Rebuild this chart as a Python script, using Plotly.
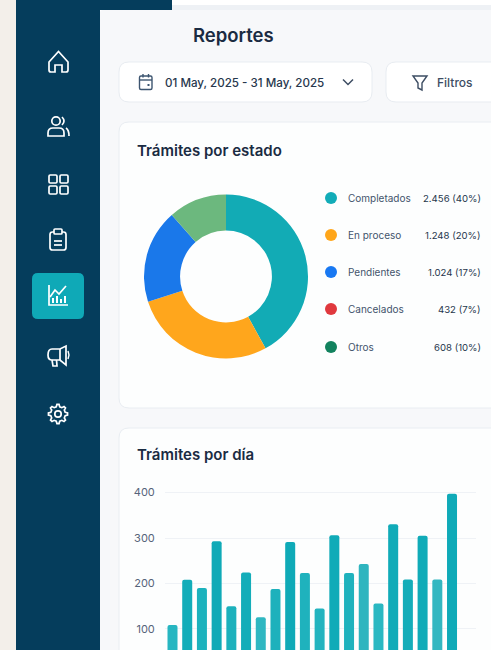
import re
import math
import plotly.graph_objects as go

W, H = 491, 650

# ---------- data ----------
donut_labels = ["Completados", "En proceso", "Pendientes", "Otros"]
donut_values = [42, 28, 18.5, 11.5]
donut_colors = ["#12abb5", "#ffa61c", "#1a78ea", "#6cb87e"]

legend_labels = ["Completados", "En proceso", "Pendientes", "Cancelados", "Otros"]
legend_values = ["2.456 (40%)", "1.248 (20%)", "1.024 (17%)", "432 (7%)", "608 (10%)"]
legend_colors = ["#12acb8", "#ffa61a", "#1878f2", "#e0393e", "#12825e"]

days = list(range(1, 21))
day_values = [109, 208, 190, 293, 150, 224, 126, 188, 291, 223,
              145, 306, 223, 243, 156, 330, 209, 305, 209, 397]
day_colors = ["#27b6c1", "#12adb9", "#1cb2bd", "#0faab7", "#1cb1bc", "#13adb9", "#2fb7c1", "#1db1bc",
              "#0faab7", "#1fb2bd", "#23b4bf", "#10abb8", "#1fb2bd", "#2fb5bf", "#2ab8c2", "#10abb8",
              "#14adb9", "#10abb8", "#33b7c1", "#0faab8"]
y_ticks = [100, 200, 300, 400]

# ---------- pixel helpers (page furniture only) ----------
def px(x):
    return x / W

def py(y):
    return 1 - y / H

def conv(path):
    toks = re.findall(r"[MLCQZ]|-?\d+\.?\d*", path)
    out, isx = [], True
    for t in toks:
        if t in "MLCQZ":
            out.append(t)
            isx = True
        else:
            out.append(f"{px(float(t)):.5f}" if isx else f"{py(float(t)):.5f}")
            isx = not isx
    return " ".join(out)

shapes = []

def rect(x0, y0, x1, y1, fill, layer="below", line=None):
    shapes.append(dict(type="rect", xref="paper", yref="paper", x0=px(x0), x1=px(x1),
                       y0=py(y0), y1=py(y1), fillcolor=fill, layer=layer,
                       line=dict(width=1 if line else 0, color=line or "rgba(0,0,0,0)")))

def rrect_path(x0, y0, x1, y1, r):
    return (f"M {x0+r} {y0} L {x1-r} {y0} Q {x1} {y0} {x1} {y0+r} L {x1} {y1-r} "
            f"Q {x1} {y1} {x1-r} {y1} L {x0+r} {y1} Q {x0} {y1} {x0} {y1-r} "
            f"L {x0} {y0+r} Q {x0} {y0} {x0+r} {y0} Z")

def rrect(x0, y0, x1, y1, r, fill, line=None, layer="below", lw=1):
    shapes.append(dict(type="path", xref="paper", yref="paper",
                       path=conv(rrect_path(x0, y0, x1, y1, r)), fillcolor=fill, layer=layer,
                       line=dict(width=lw if line else 0, color=line or "rgba(0,0,0,0)")))

def stroke(path, color="#ffffff", w=1.7, fill="rgba(0,0,0,0)"):
    shapes.append(dict(type="path", xref="paper", yref="paper", path=conv(path),
                       fillcolor=fill, layer="above", line=dict(width=w, color=color)))

def circle(cx, cy, r, fill="rgba(0,0,0,0)", line=None, w=1.7, layer="above"):
    shapes.append(dict(type="circle", xref="paper", yref="paper",
                       x0=px(cx - r), x1=px(cx + r), y0=py(cy + r), y1=py(cy - r),
                       fillcolor=fill, layer=layer,
                       line=dict(width=w if line else 0, color=line or "rgba(0,0,0,0)")))

# ---------- page furniture ----------
rect(0, 0, W, H, "#ffffff")
rect(0, 0, 16, H, "#f3efea")
rect(16, 0, 100, H, "#053d5c")
rect(100, 0, 172, 10, "#053d5c")
rect(172, 5, W + 10, 10, "#eef1f5")
rrect(100, 10, W + 20, H + 20, 3, "#f7f8fa")

rrect(119, 62, 372, 102, 10, "#ffffff", "#e8ecf1")
rrect(386, 62, W + 20, 102, 10, "#ffffff", "#e8ecf1")
rrect(119, 122, W + 20, 408, 10, "#fdfefe", "#e9edf2")
rrect(119, 428, W + 20, H + 20, 10, "#fdfefe", "#e9edf2")
rrect(32, 273, 84, 319, 6, "#0fa9b7", layer="above")

# sidebar icons
stroke("M 49 62 L 58.5 51.5 L 68 62 L 68 70 Q 68 72 66 72 L 62 72 L 62 65 L 55 65 L 55 72 "
       "L 51 72 Q 49 72 49 70 Z")
circle(56, 121, 4.2, line="#ffffff")
stroke("M 48 136 L 48 133 Q 48 128 53 128 L 59 128 Q 64 128 64 133 L 64 136 Z")
stroke("M 62 117 Q 66 121 62 125")
stroke("M 66 128 Q 69 130 69 136")
for gx, gy in [(49, 175), (60, 175), (49, 186), (60, 186)]:
    rrect(gx, gy, gx + 8, gy + 8, 1.2, "rgba(0,0,0,0)", "#ffffff", layer="above", lw=1.7)
rrect(50, 232, 66, 250, 2.5, "rgba(0,0,0,0)", "#ffffff", layer="above", lw=1.7)
rrect(54, 229, 62, 234, 1, "#053d5c", "#ffffff", layer="above", lw=1.7)
stroke("M 54 241 L 62 241")
stroke("M 54 245 L 62 245")
stroke("M 49 285 L 49 305 L 68 305")
stroke("M 50 297 L 55 290 L 59 294 L 66 286")
for bx, by in [(53, 298), (57, 296), (61, 299), (65, 296)]:
    stroke(f"M {bx} 303 L {bx} {by}", w=2)
stroke("M 52 349 L 60 349 L 66 346 L 66 365 L 60 360 L 52 360 Q 48 360 48 355 Q 48 349 52 349 Z")
stroke("M 52 360 L 53 366 L 57 366 L 56.5 360")
stroke("M 60 349 L 60 360")
stroke("M 68 351 L 69 355 L 68 359", w=1.4)

n = 8
pts = []
for i in range(n):
    a = 2 * math.pi * i / n
    for da, r in [(-0.24, 7.4), (-0.11, 9.6), (0.11, 9.6), (0.24, 7.4)]:
        pts.append((58 + r * math.cos(a + da), 414 + r * math.sin(a + da)))
stroke("M " + " L ".join(f"{x:.2f} {y:.2f}" for x, y in pts) + " Z")
circle(58, 414, 3.2, line="#ffffff")

# toolbar icons
rrect(139.5, 76, 152, 89.5, 1.5, "rgba(0,0,0,0)", "#3d5570", layer="above", lw=1.4)
stroke("M 139.5 80 L 152 80", "#3d5570", 1.4)
stroke("M 143 74 L 143 77.5", "#3d5570", 1.4)
stroke("M 148.5 74 L 148.5 77.5", "#3d5570", 1.4)
rect(147.5, 84, 149.5, 86, "#3d5570", layer="above")
stroke("M 343 79.5 L 348 84.5 L 353 79.5", "#3d4d63", 1.5)
stroke("M 413 76 L 427 76 L 422 83 L 422 90 L 418 88 L 418 83 Z", "#3d4d63", 1.4)

# legend dots
legend_y = [198, 235, 272, 309, 347]
for color, ly in zip(legend_colors, legend_y):
    circle(331, ly, 6, fill=color, layer="above")

# ---------- text ----------
annotations = []

def text(x, y, s, size, color, anchor="left", weight=400):
    annotations.append(dict(x=px(x), y=py(y), xref="paper", yref="paper", text=s, showarrow=False,
                            xanchor=anchor, yanchor="middle",
                            font=dict(family="Inter", size=size, color=color, weight=weight)))

text(191, 35, "Reportes", 18.5, "#1a2b42", weight=600)
text(163, 83, "01 May, 2025 - 31 May, 2025", 11.6, "#27374d", weight=500)
text(435, 83, "Filtros", 12, "#3d4d63", weight=500)
text(134.5, 150, "Trámites por estado", 15, "#1a2b42", weight=600)
text(134.5, 455, "Trámites por día", 15, "#1a2b42", weight=600)
for lab, val, ly in zip(legend_labels, legend_values, legend_y):
    text(346, ly, lab, 10, "#43546c")
    text(483, ly, val, 9.6, "#27374d", anchor="right")

# ---------- figure ----------
fig = go.Figure()

cx, cy, r = 226, 276.5, 82
fig.add_trace(go.Pie(
    labels=donut_labels, values=donut_values, hole=0.56, sort=False, direction="clockwise",
    rotation=0, textinfo="none", hoverinfo="label+percent", showlegend=False,
    marker=dict(colors=donut_colors, line=dict(width=0)),
    domain=dict(x=[px(cx - r), px(cx + r)], y=[py(cy + r), py(cy - r)]),
))

fig.add_trace(go.Bar(x=days, y=day_values, marker=dict(color=day_colors, line=dict(width=0)),
                     showlegend=False, hoverinfo="x+y"))

fig.update_layout(
    width=W, height=H, autosize=False, margin=dict(l=0, r=0, t=0, b=0, pad=0),
    paper_bgcolor="#ffffff", plot_bgcolor="rgba(0,0,0,0)",
    bargap=0.32, barcornerradius=2, shapes=shapes, annotations=annotations,
    xaxis=dict(domain=[px(165), px(476)], range=[0.49, 21.63], visible=False),
    yaxis=dict(domain=[0, py(480)], range=[53.8, 427.5], tickmode="array", tickvals=y_ticks,
               showgrid=True, gridcolor="#eff2f6", gridwidth=1, zeroline=False, showline=False,
               ticks="outside", ticklen=7, tickcolor="rgba(0,0,0,0)",
               tickfont=dict(family="Inter", size=11, color="#55637a")),
)

fig.write_html("out.html", config=dict(displayModeBar=False),
               post_script="document.body.style.margin='0';document.body.style.overflow='hidden';")
